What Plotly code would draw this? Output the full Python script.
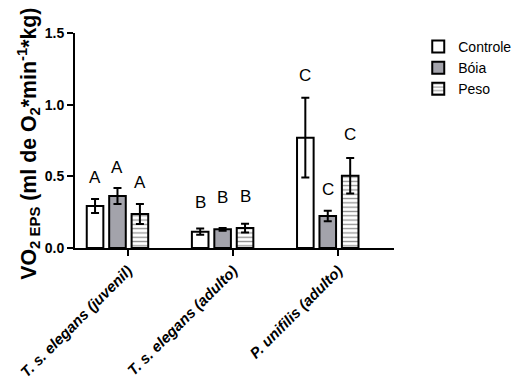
import plotly.graph_objects as go

categories = ["T. s. elegans (juvenil)", "T. s. elegans (adulto)", "P. unifilis (adulto)"]
series_names = ["Controle", "Bóia", "Peso"]

controle = [0.293, 0.114, 0.770]
controle_se = [0.049, 0.022, 0.278]
boia = [0.363, 0.130, 0.223]
boia_se = [0.056, 0.010, 0.037]
peso = [0.237, 0.139, 0.504]
peso_se = [0.070, 0.030, 0.124]

letters = [["A", "B", "C"], ["A", "B", "C"], ["A", "B", "C"]]
letter_y = [[0.495, 0.314, 1.207], [0.565, 0.349, 0.405], [0.454, 0.356, 0.789]]

tick_labels_y = ["0.0", "0.5", "1.0", "1.5"]
tick_vals_y = [0.0, 0.5, 1.0, 1.5]
y_title = "VO<sub>2 EPS</sub> (ml de O<sub>2</sub>*min<sup>-1</sup>*kg)"

FONT = "Liberation Sans, Arial, sans-serif"
group_x = list(range(len(categories)))
bargap = 0.36
slot = (1 - bargap) / 3
tick_shift = 0.1

styles = [
    dict(color="white"),
    dict(color="#a3a3ab"),
    dict(color="white", pattern=dict(shape="-", fgcolor="#222222", bgcolor="white", size=4.3, solidity=0.3)),
]
values = [controle, boia, peso]
errors = [controle_se, boia_se, peso_se]

fig = go.Figure()
for name, vals, errs, st in zip(series_names, values, errors, styles):
    marker = dict(line=dict(color="black", width=2), **st)
    fig.add_trace(go.Bar(
        x=group_x, y=vals, name=name, marker=marker,
        error_y=dict(type="data", array=errs, color="black", thickness=2, width=4),
    ))

annotations = []
for si in range(3):
    for gi in group_x:
        annotations.append(dict(
            x=gi + (si - 1) * slot, y=letter_y[si][gi], text=letters[si][gi],
            showarrow=False, xref="x", yref="y", yanchor="middle",
            font=dict(family=FONT, size=17, color="black"),
        ))

# y-axis title as a rotated annotation so it can sit exactly like the reference
annotations.append(dict(
    x=-0.145, y=0.484, xref="paper", yref="paper", xanchor="center", yanchor="middle",
    text=y_title, textangle=-90, showarrow=False,
    font=dict(family=FONT, size=21.3, weight="bold", color="black"),
))

# page body has an 8px margin, so the figure is sized to fit the 529x392 window
fig.update_layout(
    width=521, height=384, autosize=False,
    margin=dict(l=67, r=127, t=25, b=144, pad=0),
    paper_bgcolor="white", plot_bgcolor="white",
    barmode="group", bargap=bargap, bargroupgap=0.26,
    font=dict(family=FONT, color="black"),
    showlegend=True,
    legend=dict(x=1.076, y=1.01, xanchor="left", yanchor="top",
                font=dict(family=FONT, size=14, color="black"),
                tracegroupgap=0, itemwidth=30, bgcolor="rgba(0,0,0,0)"),
    annotations=annotations,
)
fig.update_xaxes(
    range=[-0.404, 2.63], showline=True, linecolor="black", linewidth=2,
    ticks="outside", ticklen=6, tickwidth=2, tickcolor="black",
    tickvals=[g + tick_shift for g in group_x], ticktext=categories,
    tickangle=-45, showgrid=False, zeroline=False, automargin=False,
    tickfont=dict(family=FONT, size=15, weight="bold", style="italic", color="black"),
)
fig.update_yaxes(
    range=[0, 1.5], showline=True, linecolor="black", linewidth=2,
    ticks="outside", ticklen=6, tickwidth=2, tickcolor="black",
    tickvals=tick_vals_y, ticktext=tick_labels_y,
    showgrid=False, zeroline=False, automargin=False,
    tickfont=dict(family=FONT, size=14, weight="bold", color="black"),
)

fig.write_html("out.html")
